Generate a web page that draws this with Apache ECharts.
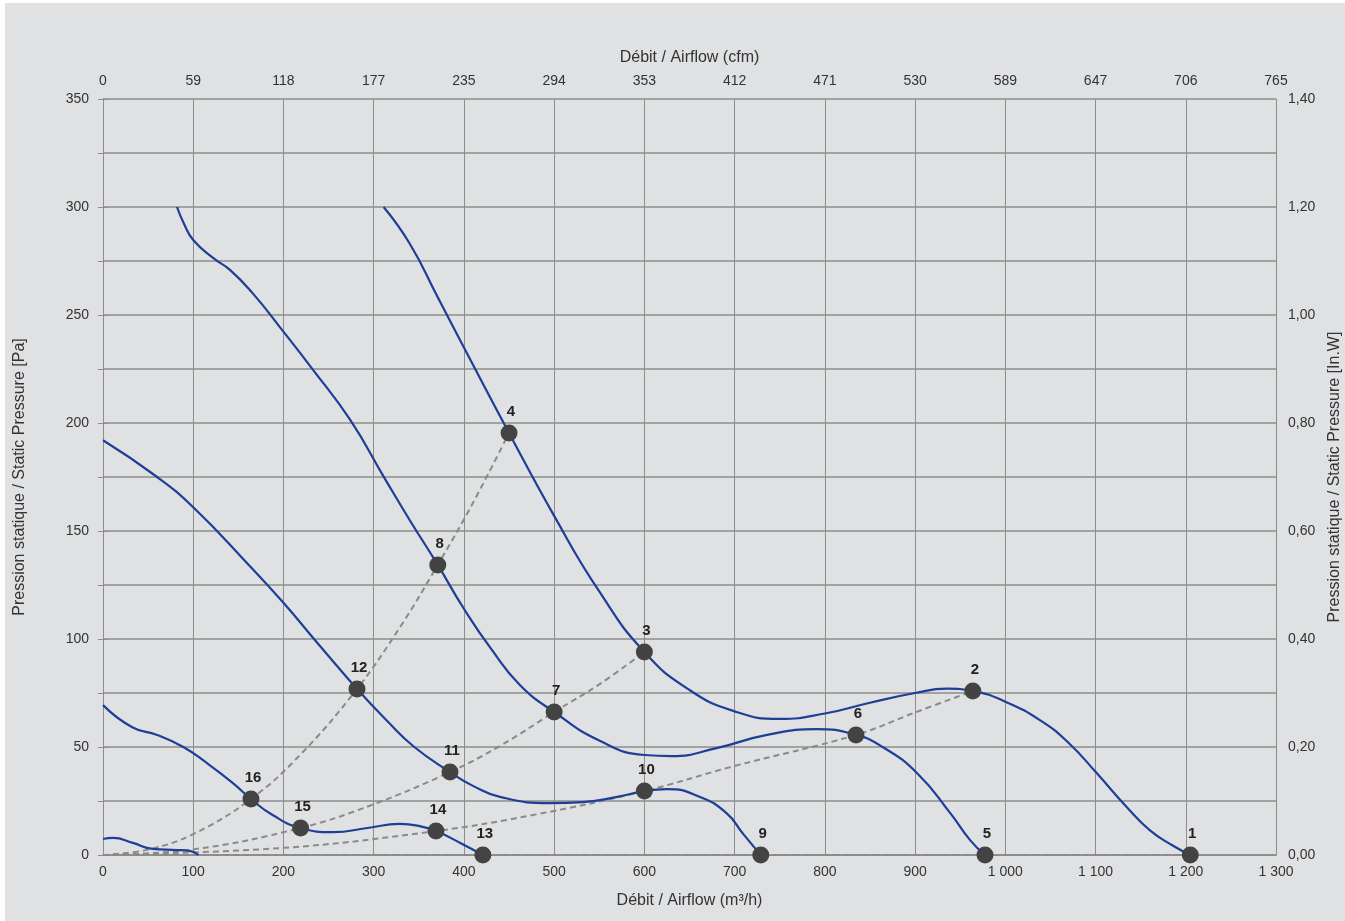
<!DOCTYPE html>
<html>
<head>
<meta charset="utf-8">
<script src="https://cdn.jsdelivr.net/npm/echarts@6/dist/echarts.min.js"></script>
<style>
html,body{margin:0;padding:0;background:#ffffff;}
#chart{position:absolute;left:5px;top:3px;width:1340px;height:918px;background:#e0e1e3;}
</style>
</head>
<body>
<div id="chart"></div>
<script>
// ---- data ----
const cfmLabels = ['0','59','118','177','235','294','353','412','471','530','589','647','706','765'];

const curveA = [[311,300],[340,283],[370,259],[400,235],[450,195.4],[500,157],[550,122],[600,94],[650,76.4],[700,66.5],[750,63],[800,65.5],[850,70.5],[900,75],[935,77],[964,75.9],[1000,71],[1040,62],[1070,52],[1100,38.5],[1135,22],[1160,11.5],[1185,4.5],[1205,0]];
const curveB = [[82,300],[90,292],[100,284.7],[122,276.4],[141,270.8],[166,260],[196,244.4],[233,224.5],[274,201.4],[312,174.5],[340,155],[371,134.3],[400,114],[430,95.5],[462,78.7],[500,66.2],[550,53],[600,46.3],[630,45.8],[680,49.5],[736,55.6],[791,58.3],[834.5,55.6],[864,50],[902,38],[939,19.4],[961,6.9],[977.5,0]];
const curveC = [[0,192],[60,175],[100,161],[160,135],[199.5,117],[240,97],[281.5,76.9],[315,62],[345,50],[384.6,38.4],[410,32],[440,26.9],[495,24],[532,24.5],[570,26.9],[600,29.6],[625,30.5],[661,27],[691,19.4],[709,10],[729,0]];
const curveD = [[0,69.4],[33,59],[60,55.6],[89,50],[115,42.6],[144,33.3],[164,25.9],[188,18.5],[219,12.5],[255,10.6],[293,12.5],[329,14.4],[351,13.4],[369,11.1],[396,5.6],[421,0]];
const curveE = [[0,7.4],[11,7.9],[33,5.6],[55,2.8],[82,2.3],[96,1.9],[106,0]];

const system1 = [[0,0],[50,2.5],[100,9.7],[164,25.9],[220,47],[281.5,76.9],[330,106],[371,134.3],[410,163],[450,195.4]];
const system2 = [[0,0],[100,2.6],[219,12.5],[300,23.5],[384.6,38.4],[440,50.5],[500,66.2],[550,79],[600,94]];
const system3 = [[0,0],[200,3.3],[369,11.1],[480,18.8],[600,29.6],[698,41],[834.5,55.6],[900,66],[964,75.9]];
const system4 = [[0,0],[1205,0]];

const points = [
  [1205,0,'1'],[964,75.9,'2'],[600,94,'3'],[450,195.4,'4'],
  [977.5,0,'5'],[834.5,55.6,'6'],[500,66.2,'7'],[371,134.3,'8'],
  [729,0,'9'],[600,29.6,'10'],[384.6,38.4,'11'],[281.5,76.9,'12'],
  [421,0,'13'],[369,11.1,'14'],[219,12.5,'15'],[164,25.9,'16']
];

// ---- chart ----
const FONT = 'Liberation Sans, Arial, sans-serif';
const gridColor = '#8d8d8d';
const textColor = '#333333';
const blue = '#1d3f96';

function fan(data){
  return {type:'line', data:data, smooth:0.5, showSymbol:false, symbol:'none',
    lineStyle:{color:blue, width:2.2}, z:3, silent:true};
}
function sys(data){
  return {type:'line', data:data, smooth:0.4, showSymbol:false, symbol:'none',
    lineStyle:{color:'#8a8a8a', width:2, type:[6,4]}, z:2, silent:true};
}
function thousands(v){ return String(v).replace(/\B(?=(\d{3})+(?!\d))/g,' '); }

const chart = echarts.init(document.getElementById('chart'), null, {renderer:'canvas'});
chart.setOption({
  animation:false,
  backgroundColor:'#e0e1e3',
  textStyle:{fontFamily:FONT},
  grid:{left:98, right:69, top:96, bottom:66, containLabel:false, outerBoundsMode:'none'},
  xAxis:[
    {type:'value', position:'bottom', min:0, max:1300, interval:100,
     name:'Débit / Airflow (m³/h)', nameLocation:'middle', nameGap:38,
     nameTextStyle:{color:textColor, fontSize:16, fontFamily:FONT},
     axisLine:{show:true, lineStyle:{color:gridColor, width:1}},
     axisTick:{show:false},
     axisLabel:{color:textColor, fontSize:14, margin:10, fontFamily:FONT, formatter:thousands},
     splitLine:{show:true, lineStyle:{color:gridColor, width:1}}},
    {type:'value', position:'top', min:0, max:1300, interval:100,
     name:'Débit / Airflow (cfm)', nameLocation:'middle', nameGap:33,
     nameTextStyle:{color:textColor, fontSize:16, fontFamily:FONT},
     axisLine:{show:true, lineStyle:{color:gridColor, width:1.5}},
     axisTick:{show:false},
     axisLabel:{color:textColor, fontSize:14, margin:11, fontFamily:FONT,
       formatter:function(v){ return cfmLabels[Math.round(v/100)]; }},
     splitLine:{show:false}}
  ],
  yAxis:[
    {type:'value', position:'left', min:0, max:350, interval:25,
     name:'Pression statique / Static Pressure [Pa]', nameLocation:'middle', nameGap:75,
     nameTextStyle:{color:textColor, fontSize:16, fontFamily:FONT},
     axisLine:{show:true, lineStyle:{color:gridColor, width:1}},
     axisTick:{show:true, length:5, lineStyle:{color:gridColor}},
     axisLabel:{color:textColor, fontSize:14, margin:14, fontFamily:FONT,
       formatter:function(v){ return (v % 50 === 0) ? String(v) : ''; }},
     splitLine:{show:true, lineStyle:{color:gridColor, width:1.5}}},
    {type:'value', position:'right', min:0, max:1.4, interval:0.2,
     name:'Pression statique / Static Pressure [In.W]', nameLocation:'middle', nameGap:49,
     nameTextStyle:{color:textColor, fontSize:16, fontFamily:FONT},
     axisLine:{show:true, lineStyle:{color:gridColor, width:1}},
     axisTick:{show:true, length:4, lineStyle:{color:gridColor}},
     axisLabel:{color:textColor, fontSize:14, margin:12, fontFamily:FONT,
       formatter:function(v){ return v.toFixed(2).replace('.',','); }},
     splitLine:{show:false}}
  ],
  series:[
    sys(system4), sys(system3), sys(system2), sys(system1),
    fan(curveA), fan(curveB), fan(curveC), fan(curveD), fan(curveE),
    {type:'scatter', data:points, symbol:'circle', symbolSize:17, z:5, silent:true,
     itemStyle:{color:'#434343', opacity:1},
     label:{show:true, position:'top', distance:5, offset:[2,0], color:'#222222',
       fontSize:15, fontWeight:'bold', fontFamily:FONT,
       formatter:function(p){ return p.data[2]; }}}
  ]
});
</script>
</body>
</html>
